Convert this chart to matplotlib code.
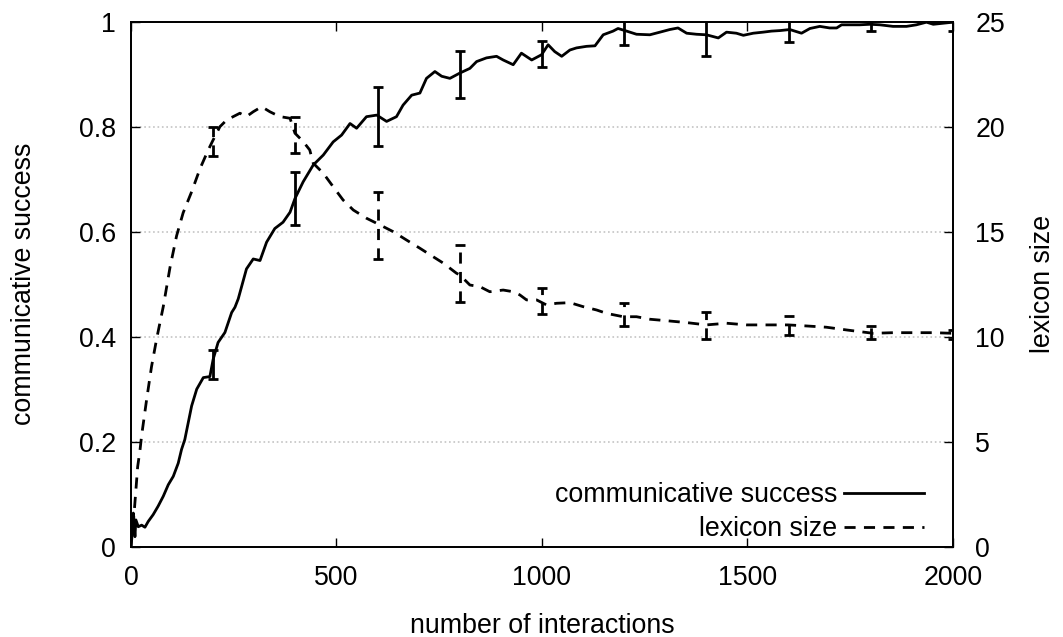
import matplotlib
matplotlib.use('Agg')
import matplotlib.pyplot as plt
import numpy as np
from matplotlib.lines import Line2D

plt.rcParams['font.family'] = ['Liberation Sans', 'DejaVu Sans']
plt.rcParams['font.size'] = 19.3

# communicative success (left axis)
succ_x = [0, 3, 5.7, 9.7, 12, 17.8, 26, 34, 42, 54, 66, 78.6, 90.8, 103, 115, 123, 131,
          147.6, 160, 176, 192, 200, 212, 228.6, 245, 253, 261, 281, 297.5, 314, 330, 350,
          370, 387, 399, 419, 443.5, 468, 492, 512.5, 533, 549, 573, 598, 622, 646, 662,
          683, 703, 719, 739.5, 756, 776, 800, 824.6, 841, 865, 889.5, 905.6, 930, 950,
          975, 999, 1015, 1031, 1048, 1068, 1084, 1108.5, 1129, 1149, 1173, 1185, 1206,
          1230, 1262.5, 1287, 1311, 1331, 1352, 1376, 1400, 1429, 1449, 1473, 1490, 1514,
          1538, 1558.5, 1579, 1603, 1631.5, 1652, 1676, 1700, 1717, 1729, 1773, 1798,
          1822, 1854, 1887, 1911, 1935.5, 1952, 1976, 2000]
succ_y = [0.0, 0.038, 0.064, 0.019, 0.051, 0.038, 0.041, 0.037, 0.048, 0.061, 0.077, 0.096,
          0.118, 0.134, 0.159, 0.185, 0.204, 0.268, 0.30, 0.322, 0.324, 0.357, 0.389, 0.408,
          0.446, 0.456, 0.472, 0.529, 0.548, 0.545, 0.58, 0.606, 0.618, 0.637, 0.663, 0.695,
          0.727, 0.746, 0.771, 0.784, 0.806, 0.797, 0.819, 0.822, 0.81, 0.819, 0.841, 0.86,
          0.864, 0.892, 0.905, 0.896, 0.892, 0.902, 0.911, 0.924, 0.931, 0.934, 0.927, 0.918,
          0.94, 0.927, 0.937, 0.956, 0.943, 0.934, 0.946, 0.95, 0.953, 0.954, 0.975, 0.982,
          0.987, 0.982, 0.976, 0.975, 0.98, 0.985, 0.988, 0.978, 0.976, 0.975, 0.969, 0.98,
          0.978, 0.974, 0.978, 0.98, 0.982, 0.983, 0.985, 0.978, 0.987, 0.991, 0.988, 0.988,
          0.994, 0.994, 0.995, 0.994, 0.991, 0.991, 0.994, 0.999, 0.995, 0.997, 0.999]

# lexicon size (right axis)
lex_x = [0, 5.7, 11.4, 16.3, 22, 26, 38, 50, 62.5, 78.6, 95, 111, 127, 147.6, 168, 188,
         200, 216.5, 233, 249, 265, 281, 297.5, 318, 338, 362, 387, 399, 419, 435, 443.5,
         468, 492, 516, 541, 573, 606, 638, 670.6, 703, 735, 760, 792, 800, 824.6, 849,
         873, 905.6, 930, 946, 962.5, 987, 1011, 1035.5, 1068, 1100, 1133, 1157, 1197.5,
         1230, 1262.5, 1303, 1352, 1400, 1449, 1498, 1546, 1599, 1643.6, 1692, 1741, 1773,
         1806, 1854, 1903, 1952, 2000]
lex_y = [0, 1.11, 2.54, 3.81, 4.6, 5.3, 6.99, 8.57, 9.9, 11.43, 13.3, 14.8, 15.9, 16.9,
         18.0, 18.89, 19.37, 20.0, 20.32, 20.48, 20.64, 20.48, 20.71, 20.95, 20.71, 20.48,
         20.4, 19.69, 19.29, 18.89, 18.26, 17.78, 17.14, 16.51, 16.03, 15.64, 15.32, 15.0,
         14.6, 14.21, 13.81, 13.5, 13.02, 12.94, 12.46, 12.38, 12.14, 12.22, 12.14, 11.99,
         11.75, 11.75, 11.51, 11.59, 11.62, 11.43, 11.27, 11.11, 10.95, 10.95, 10.83, 10.76,
         10.67, 10.56, 10.64, 10.56, 10.56, 10.56, 10.51, 10.45, 10.32, 10.24, 10.16, 10.19,
         10.19, 10.19, 10.16]

# error bars every 200 interactions
err_x = [200, 400, 600, 800, 1000, 1200, 1400, 1600, 1800, 2000]
succ_mean = [0.347, 0.663, 0.82, 0.899, 0.938, 0.98, 0.97, 0.983, 0.993, 0.994]
succ_err = [0.027, 0.05, 0.056, 0.045, 0.025, 0.025, 0.036, 0.021, 0.01, 0.011]
lex_mean = [19.3, 19.6, 15.3, 13.0, 11.7, 11.05, 10.53, 10.53, 10.2, 10.1]
lex_err = [0.7, 0.85, 1.6, 1.36, 0.6, 0.54, 0.65, 0.45, 0.3, 0.2]

fig = plt.figure(figsize=(10.63, 6.37), dpi=100)
ax = fig.add_axes([0.1232, 0.1418, 0.7733, 0.8242])
ax2 = ax.twinx()

lw = 2.0
dash = (0, (4, 3))

ax.plot(succ_x, succ_y, color='black', lw=lw)
ax.errorbar(err_x, succ_mean, yerr=succ_err, fmt='none', ecolor='black',
            elinewidth=lw, capsize=3.6, capthick=lw)

ax2.plot(lex_x, lex_y, color='black', lw=lw, linestyle=dash)
eb = ax2.errorbar(err_x, lex_mean, yerr=lex_err, fmt='none', ecolor='black',
                  elinewidth=lw, capsize=3.6, capthick=lw)
eb[2][0].set_linestyle(dash)

ax.set_xlim(0, 2000)
ax.set_ylim(0, 1)
ax2.set_ylim(0, 25)
ax.set_xticks([0, 500, 1000, 1500, 2000])
ax.set_yticks([0, 0.2, 0.4, 0.6, 0.8, 1])
ax.set_yticklabels(['0', '0.2', '0.4', '0.6', '0.8', '1'])
ax2.set_yticks([0, 5, 10, 15, 20, 25])

ax.yaxis.grid(True, color='#c4c4c4', linestyle=':', linewidth=1.2)
ax.set_axisbelow(True)

ax.tick_params(axis='x', direction='in', length=6.5, width=1, top=True, pad=13)
ax.tick_params(axis='y', direction='in', length=6.5, width=1, right=False, pad=11)
ax2.tick_params(axis='y', direction='in', length=6.5, width=1, pad=16)

for a in (ax, ax2):
    for s in a.spines.values():
        s.set_linewidth(1.3)

ax.set_xlabel('number of interactions', labelpad=16)
ax.set_ylabel('communicative success', labelpad=30)
ax2.set_ylabel('lexicon size', labelpad=18)

handles = [Line2D([], [], color='black', lw=lw),
           Line2D([], [], color='black', lw=lw, linestyle=dash)]
ax2.legend(handles, ['communicative success', 'lexicon size'], loc='lower right',
           bbox_to_anchor=(924 / 1063, (637 - 542) / 637), bbox_transform=fig.transFigure,
           frameon=False, markerfirst=False, handlelength=3.0, handletextpad=0.25,
           labelspacing=0.3, borderpad=0, borderaxespad=0)

fig.savefig('out.png', dpi=100)
